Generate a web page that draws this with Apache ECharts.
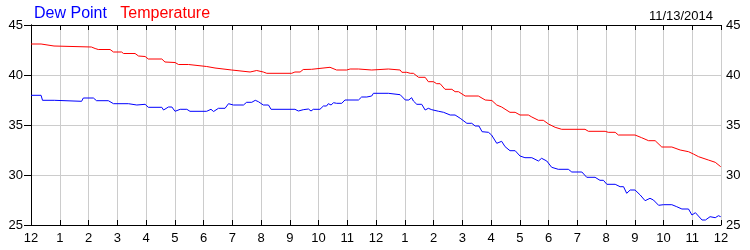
<!DOCTYPE html>
<html>
<head>
<meta charset="utf-8">
<script src="https://cdn.jsdelivr.net/npm/echarts@6/dist/echarts.min.js"></script>
<style>
html,body{margin:0;padding:0;background:#fff;}
#chart{width:750px;height:250px;}
</style>
</head>
<body>
<div id="chart"></div>
<script>
var hourTickLabels = ['12','1','2','3','4','5','6','7','8','9','10','11','12','1','2','3','4','5','6','7','8','9','10','11','12'];
var yTicks = [25, 30, 35, 40, 45];
var dateLabel = '11/13/2014';

var tempHours = [0.00,0.35,0.40,0.80,0.82,2.10,2.23,2.34,2.75,2.87,3.15,3.22,3.62,3.74,3.97,4.08,4.55,4.66,5.01,5.13,5.48,5.53,6.11,6.17,6.40,6.46,6.98,7.04,7.62,7.68,7.85,7.91,8.08,
  8.20,9.07,9.18,9.36,9.47,9.76,9.82,10.40,10.63,10.98,11.10,11.39,11.45,11.85,11.91,12.43,12.49,12.84,12.90,13.07,13.19,13.30,13.48,13.71,13.82,14.00,14.11,14.23,14.40,14.64,14.75,14.87,15.10,15.56,15.80,16.03,
  16.20,16.37,16.66,16.84,17.01,17.30,17.42,17.65,17.82,18.00,18.23,18.46,19.27,19.39,19.97,20.08,20.32,20.43,21.01,21.24,21.48,21.71,21.94,22.29,22.58,22.87,23.04,23.22,23.56,23.80,23.99];
var tempValues = [43.1,43.1,42.9,42.9,42.8,42.8,42.65,42.55,42.55,42.3,42.3,42.15,42.15,41.9,41.85,41.6,41.6,41.3,41.25,41.05,41.05,40.9,40.85,40.7,40.7,40.5,40.5,40.3,40.3,40.45,40.45,40.3,40.3,
  40.17,40.17,40.3,40.3,40.55,40.57,40.77,40.77,40.5,40.5,40.6,40.6,40.5,40.5,40.6,40.6,40.5,40.5,40.27,40.27,40.17,40.17,39.77,39.77,39.33,39.33,39.13,39.13,38.57,38.57,38.33,38.33,37.9,37.9,37.5,37.45,
  37.0,36.8,36.27,36.27,36.0,36.0,35.8,35.47,35.47,35.1,34.77,34.57,34.57,34.37,34.37,34.27,34.27,34.0,34.0,33.73,33.43,33.43,32.8,32.8,32.5,32.33,32.1,31.83,31.5,31.27,30.83];

var dewHours = [0.00,0.35,0.40,0.81,0.85,1.76,1.82,2.17,2.28,2.69,2.87,3.39,3.45,3.68,3.74,3.97,4.08,4.55,4.61,4.78,4.90,5.01,5.19,5.42,5.53,6.11,6.26,6.35,6.52,6.75,6.87,7.04,7.39,7.50,7.68,7.80,7.91,
  8.08,8.26,8.35,9.18,9.30,9.47,9.65,9.74,9.82,10.05,10.17,10.28,10.34,10.44,10.52,10.63,10.81,10.92,11.39,11.50,11.68,11.74,11.85,11.91,12.43,12.49,12.84,13.02,13.14,13.24,13.30,13.42,13.59,13.71,13.82,13.94,14.18,14.35,14.41,14.58,14.75,14.93,15.16,15.33,15.45,15.58,15.69,15.91,
  16.02,16.20,16.37,16.49,16.66,16.84,17.01,17.18,17.42,17.65,17.76,17.94,18.11,18.34,18.69,18.81,19.16,19.33,19.62,19.79,19.91,20.03,20.32,20.49,20.61,20.72,20.84,21.01,21.19,21.36,21.53,21.65,21.83,22.00,22.29,22.46,22.64,22.87,22.99,23.11,23.34,23.46,23.62,23.80,23.91,23.99];
var dewValues = [37.97,37.97,37.47,37.47,37.37,37.37,37.7,37.7,37.43,37.43,37.13,37.13,37.0,37.0,37.07,37.07,36.77,36.77,36.5,36.8,36.8,36.37,36.57,36.57,36.37,36.37,36.57,36.35,36.67,36.67,37.13,37.0,37.0,37.27,37.27,37.47,37.33,
  37.0,37.0,36.57,36.57,36.4,36.53,36.6,36.4,36.57,36.57,36.9,36.9,37.13,37.0,37.23,37.17,37.17,37.5,37.5,37.8,37.8,37.9,37.9,38.17,38.17,38.03,38.03,37.5,37.5,37.73,37.4,37.07,37.07,36.5,36.67,36.53,36.37,36.27,36.33,36.0,36.0,35.67,35.17,35.17,34.9,34.9,34.33,34.27,
  34.0,33.17,33.37,32.83,32.43,32.43,31.9,31.73,31.73,31.4,31.67,31.4,30.77,30.57,30.57,30.3,30.3,29.77,29.77,29.47,29.47,29.07,29.07,28.83,28.83,28.17,28.5,28.5,28.0,27.43,27.67,27.5,26.97,27.03,27.03,26.83,26.6,26.6,26.0,26.23,25.5,25.5,25.83,25.73,25.93,25.83];

function pairs(xs, ys){ var out=[]; for(var i=0;i<xs.length;i++) out.push([xs[i], ys[i]]); return out; }

var chart = echarts.init(document.getElementById('chart'), null, {renderer:'canvas'});
var font = 'Liberation Sans, Arial, sans-serif';
var gridColor = '#cccccc';
chart.setOption({
  animation: false,
  backgroundColor: '#ffffff',
  title: [{
    text: '{a|Dew Point}   {b|Temperature}',
    left: 29, top: 1,
    textStyle: { fontWeight: 'normal', fontSize: 16, fontFamily: font, rich: {
      a: { color: '#0000ff', fontSize: 16, fontWeight: 'normal', fontFamily: font },
      b: { color: '#ff0000', fontSize: 16, fontWeight: 'normal', fontFamily: font }
    }}
  },{
    text: dateLabel,
    right: 32, top: 5,
    textStyle: { color: '#000', fontSize: 13, fontWeight: 'normal', fontFamily: font }
  }],
  grid: { left: 31, right: 29, top: 25, bottom: 25, containLabel: false },
  xAxis: [{
    type: 'value', min: 0, max: 24, interval: 1, position: 'bottom',
    axisLine: { show: true, lineStyle: { color: '#000', width: 1 } },
    axisTick: { show: true, inside: true, length: 5, lineStyle: { color: '#000' } },
    axisLabel: { color: '#000', fontSize: 13, fontFamily: font, margin: 7,
      formatter: function(v){ return hourTickLabels[Math.round(v)]; } },
    splitLine: { show: true, lineStyle: { color: gridColor, width: 1 } }
  },{
    type: 'value', min: 0, max: 24, interval: 1, position: 'top',
    axisLine: { show: true, lineStyle: { color: '#000', width: 1 } },
    axisTick: { show: true, inside: true, length: 5, lineStyle: { color: '#000' } },
    axisLabel: { show: false },
    splitLine: { show: false }
  }],
  yAxis: [{
    type: 'value', min: yTicks[0], max: yTicks[yTicks.length-1], interval: 5, position: 'left',
    axisLine: { show: true, lineStyle: { color: '#000', width: 1 } },
    axisTick: { show: false },
    axisLabel: { color: '#000', fontSize: 13, fontFamily: font, margin: 8 },
    splitLine: { show: true, lineStyle: { color: gridColor, width: 1 } }
  },{
    type: 'value', min: yTicks[0], max: yTicks[yTicks.length-1], interval: 5, position: 'right',
    axisLine: { show: true, lineStyle: { color: '#000', width: 1 } },
    axisTick: { show: true, inside: true, length: 7, lineStyle: { color: '#000' } },
    axisLabel: { color: '#000', fontSize: 13, fontFamily: font, margin: 5 },
    splitLine: { show: false }
  }],
  series: [{
    name: 'Dew Point', type: 'line', xAxisIndex: 0, yAxisIndex: 0,
    data: pairs(dewHours, dewValues), showSymbol: false, symbol: 'none',
    lineStyle: { color: '#0000ff', width: 1 }, itemStyle: { color: '#0000ff' }
  },{
    name: 'Temperature', type: 'line', xAxisIndex: 0, yAxisIndex: 0,
    data: pairs(tempHours, tempValues), showSymbol: false, symbol: 'none',
    lineStyle: { color: '#ff0000', width: 1 }, itemStyle: { color: '#ff0000' }
  }]
});
</script>
</body>
</html>
